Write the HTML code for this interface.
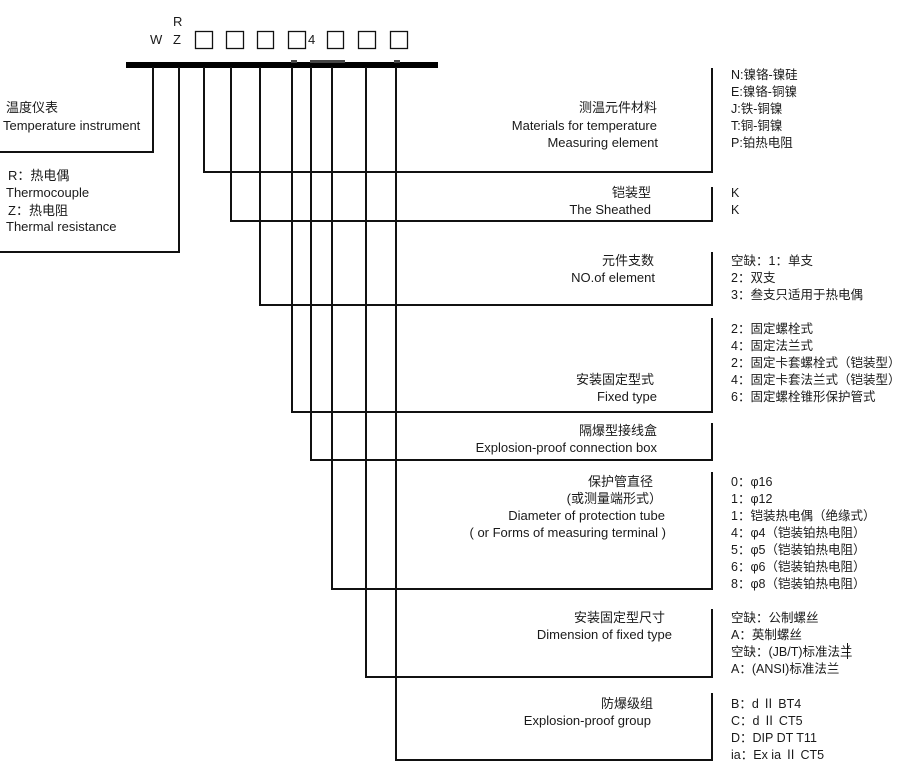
<!DOCTYPE html>
<html><head><meta charset="utf-8"><style>
html,body{margin:0;padding:0;background:#fff;}
svg{display:block;}
text{font-family:"Liberation Sans","Noto Sans CJK SC",sans-serif;font-size:13px;fill:#1a1a1a;}
.e{text-anchor:end;}
.r{font-size:12.5px;}
</style></head><body>
<svg width="898" height="772" viewBox="0 0 898 772" xmlns="http://www.w3.org/2000/svg">
<text x="150" y="44">W</text>
<text x="173" y="26">R</text>
<text x="173" y="44">Z</text>
<g fill="none" stroke="#111" stroke-width="1.3">
<rect x="195.5" y="31.5" width="17" height="17"/>
<rect x="226.5" y="31.5" width="17" height="17"/>
<rect x="257.5" y="31.5" width="16" height="17"/>
<rect x="288.5" y="31.5" width="17" height="17"/>
<rect x="327.5" y="31.5" width="16" height="17"/>
<rect x="358.5" y="31.5" width="17" height="17"/>
<rect x="390.5" y="31.5" width="17" height="17"/>
</g>
<text x="308" y="44">4</text>
<rect x="126" y="62" width="312" height="6" fill="#000"/>
<rect x="291" y="60" width="6" height="3" fill="#444"/>
<rect x="310" y="60" width="35" height="3" fill="#444"/>
<rect x="394" y="60" width="6" height="3" fill="#444"/>
<g fill="none" stroke="#111" stroke-width="2">
<polyline points="153,67 153,152 0,152"/>
<polyline points="179,67 179,252 0,252"/>
<polyline points="204,67 204,172 712,172 712,68"/>
<polyline points="231,67 231,221 712,221 712,187"/>
<polyline points="260,67 260,305 712,305 712,252"/>
<polyline points="292,67 292,412 712,412 712,318"/>
<polyline points="311,67 311,460 712,460 712,423"/>
<polyline points="332,67 332,589 712,589 712,472"/>
<polyline points="366,67 366,677 712,677 712,609"/>
<polyline points="396,67 396,760 712,760 712,693"/>
</g>
<text x="6" y="112">温度仪表</text>
<text x="3" y="130">Temperature instrument</text>
<text x="8" y="180">R：热电偶</text>
<text x="6" y="197">Thermocouple</text>
<text x="8" y="215">Z：热电阻</text>
<text x="6" y="231">Thermal resistance</text>
<text class="e" x="657" y="112">测温元件材料</text>
<text class="e" x="657" y="130">Materials for temperature</text>
<text class="e" x="658" y="147">Measuring element</text>
<text class="e" x="651" y="197">铠装型</text>
<text class="e" x="651" y="214">The Sheathed</text>
<text class="e" x="654" y="265">元件支数</text>
<text class="e" x="655" y="282">NO.of element</text>
<text class="e" x="654" y="384">安装固定型式</text>
<text class="e" x="657" y="401">Fixed type</text>
<text class="e" x="657" y="435">隔爆型接线盒</text>
<text class="e" x="657" y="452">Explosion-proof connection box</text>
<text class="e" x="653" y="486">保护管直径</text>
<text class="e" x="662" y="503">(或测量端形式）</text>
<text class="e" x="665" y="520">Diameter of protection tube</text>
<text class="e" x="666" y="537">( or Forms of measuring terminal )</text>
<text class="e" x="665" y="622">安装固定型尺寸</text>
<text class="e" x="672" y="639">Dimension of fixed type</text>
<text class="e" x="653" y="708">防爆级组</text>
<text class="e" x="651" y="725">Explosion-proof group</text>
<g class="r">
<text class="r" x="731" y="79">N:镍铬-镍硅</text>
<text class="r" x="731" y="96">E:镍铬-铜镍</text>
<text class="r" x="731" y="113">J:铁-铜镍</text>
<text class="r" x="731" y="130">T:铜-铜镍</text>
<text class="r" x="731" y="147">P:铂热电阻</text>
<text class="r" x="731" y="197">K</text>
<text class="r" x="731" y="214">K</text>
<text class="r" x="731" y="265">空缺：1：单支</text>
<text class="r" x="731" y="282">2：双支</text>
<text class="r" x="731" y="299">3：叁支只适用于热电偶</text>
<text class="r" x="731" y="333">2：固定螺栓式</text>
<text class="r" x="731" y="350">4：固定法兰式</text>
<text class="r" x="731" y="367">2：固定卡套螺栓式（铠装型）</text>
<text class="r" x="731" y="384">4：固定卡套法兰式（铠装型）</text>
<text class="r" x="731" y="401">6：固定螺栓锥形保护管式</text>
<text class="r" x="731" y="486">0：φ16</text>
<text class="r" x="731" y="503">1：φ12</text>
<text class="r" x="731" y="520">1：铠装热电偶（绝缘式）</text>
<text class="r" x="731" y="537">4：φ4（铠装铂热电阻）</text>
<text class="r" x="731" y="554">5：φ5（铠装铂热电阻）</text>
<text class="r" x="731" y="571">6：φ6（铠装铂热电阻）</text>
<text class="r" x="731" y="588">8：φ8（铠装铂热电阻）</text>
<text class="r" x="731" y="622">空缺：公制螺丝</text>
<text class="r" x="731" y="639">A：英制螺丝</text>
<text class="r" x="731" y="656">空缺：(JB/T)标准法兰</text>
<text class="r" x="731" y="673">A：(ANSI)标准法兰</text>
<text class="r" x="731" y="708">B：d Ⅱ BT4</text>
<text class="r" x="731" y="725">C：d Ⅱ  CT5</text>
<text class="r" x="731" y="742">D：DIP DT T11</text>
<text class="r" x="731" y="759">ia：Ex ia Ⅱ CT5</text>
</g>
<line x1="847.5" y1="643" x2="847.5" y2="659" stroke="#111" stroke-width="1"/>
</svg>
</body></html>
